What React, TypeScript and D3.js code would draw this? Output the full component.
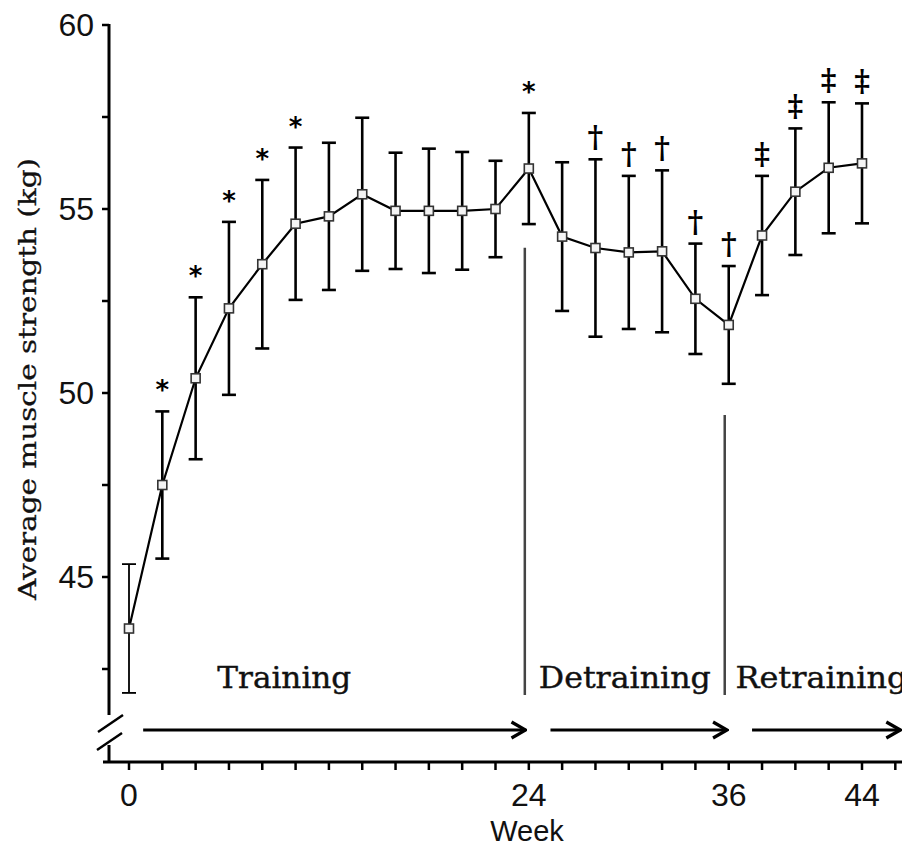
import React from "react";
import * as d3 from "d3";

const weeks = [0, 2, 4, 6, 8, 10, 12, 14, 16, 18, 20, 22, 24, 26, 28, 30, 32, 34, 36, 38, 40, 42, 44];
const means = [43.6, 47.5, 50.4, 52.3, 53.5, 54.6, 54.8, 55.4, 54.95, 54.95, 54.95, 55.0, 56.1, 54.25, 53.94, 53.82, 53.85, 52.56, 51.85, 54.28, 55.47, 56.12, 56.24];
const sds = [1.75, 2.0, 2.2, 2.35, 2.29, 2.07, 2.0, 2.08, 1.58, 1.69, 1.6, 1.31, 1.51, 2.02, 2.41, 2.08, 2.2, 1.5, 1.6, 1.62, 1.72, 1.78, 1.63];
const marks = ["", "*", "*", "*", "*", "*", "", "", "", "", "", "", "*", "", "†", "†", "†", "†", "†", "‡", "‡", "‡", "‡"];

const yTicks = [42.5, 45, 47.5, 50, 52.5, 55, 57.5, 60];
const yTickLabels = [45, 50, 55, 60];
const xTicks = d3.range(0, 47, 2);
const xTickLabels = [0, 24, 36, 44];

const phaseNames = ["Training", "Detraining", "Retraining"];
const phaseLabelStart = [5.3, 24.6, 36.4];
const phaseLabelWidth = [134, 172, 172];
const phaseArrowStart = [0.85, 25.3, 37.4];
const phaseArrowEnd = [23.8, 35.9, 46.3];
const dividerWeeks = [24, 36];
const dividerTops = [53.95, 49.4];

const W = 902;
const H = 850;

export default function App() {
  const x = d3.scaleLinear().domain([0, 44]).range([129, 862]);
  const y = d3.scaleLinear().domain([45, 60]).range([577, 25]);

  const axisX = 109;
  const axisY = 762;
  const yAxisEnd = 715;
  const lowerStart = 745;
  const dividerBottom = 695;
  const arrowY = 730;
  const capHalf = 7;

  const line = d3
    .line<number>()
    .x((_, i) => x(weeks[i]))
    .y((d) => y(d));

  const labelFont = "'DejaVu Serif', serif";
  const tickFont = "'Liberation Sans', sans-serif";

  return (
    <svg width={W} height={H} style={{ position: "absolute", left: 0, top: 0, background: "#fff" }}>
      <defs>
        <marker id="arr" viewBox="0 0 20 20" refX="18" refY="10" markerWidth="20" markerHeight="20" markerUnits="userSpaceOnUse" orient="auto">
          <path d="M4,2 L18,10 L4,18" fill="none" stroke="#000" strokeWidth={3.2} strokeLinejoin="miter" />
        </marker>
      </defs>

      {/* Y axis */}
      <line x1={axisX} x2={axisX} y1={y(60) - 1} y2={yAxisEnd} stroke="#000" strokeWidth={3} />
      <line x1={axisX} x2={axisX} y1={lowerStart} y2={axisY} stroke="#000" strokeWidth={3} />
      <line x1={98} y1={732} x2={123} y2={715} stroke="#000" strokeWidth={2.5} />
      <line x1={97} y1={750} x2={122} y2={733} stroke="#000" strokeWidth={2.5} />
      {yTicks.map((t) => (
        <line key={t} x1={axisX - 7} x2={axisX} y1={y(t)} y2={y(t)} stroke="#000" strokeWidth={2.5} />
      ))}
      {yTickLabels.map((t) => (
        <text key={t} x={94} y={y(t) + 11} textAnchor="end" fontFamily={tickFont} fontSize={32} fill="#111">
          {t}
        </text>
      ))}
      <text
        transform={`translate(36,379) rotate(-90)`}
        textAnchor="middle"
        fontFamily={labelFont}
        fontSize={25}
        textLength={442}
        lengthAdjust="spacingAndGlyphs"
        fill="#111"
        stroke="#111"
        strokeWidth={0.3}
      >
        Average muscle strength (kg)
      </text>

      {/* X axis */}
      <line x1={103} x2={W} y1={axisY} y2={axisY} stroke="#000" strokeWidth={3} />
      {xTicks.map((t) => (
        <line key={t} x1={x(t)} x2={x(t)} y1={axisY} y2={axisY + 8} stroke="#000" strokeWidth={2.5} />
      ))}
      {xTickLabels.map((t) => (
        <text key={t} x={x(t)} y={806} textAnchor="middle" fontFamily={tickFont} fontSize={32} fill="#111">
          {t}
        </text>
      ))}
      <text x={527} y={841} textAnchor="middle" fontFamily={tickFont} fontSize={29} fill="#111">
        Week
      </text>

      {/* phase dividers */}
      {dividerWeeks.map((w, i) => (
        <line key={w} x1={x(w) - 4} x2={x(w) - 4} y1={y(dividerTops[i])} y2={dividerBottom} stroke="#444" strokeWidth={2.5} />
      ))}

      {/* phase labels and arrows */}
      {phaseNames.map((p, i) => (
        <text
          key={p}
          x={x(phaseLabelStart[i])}
          y={688}
          fontFamily={labelFont}
          fontSize={29}
          textLength={phaseLabelWidth[i]}
          lengthAdjust="spacingAndGlyphs"
          fill="#111"
          stroke="#111"
          strokeWidth={0.4}
        >
          {p}
        </text>
      ))}
      {phaseNames.map((p, i) => (
        <line
          key={p + "a"}
          x1={x(phaseArrowStart[i])}
          x2={x(phaseArrowEnd[i])}
          y1={arrowY}
          y2={arrowY}
          stroke="#000"
          strokeWidth={3}
          markerEnd="url(#arr)"
        />
      ))}

      {/* error bars */}
      {means.map((m, i) => {
        const cx = x(weeks[i]);
        const top = y(m + sds[i]);
        const bot = y(m - sds[i]);
        return (
          <g key={i} stroke="#000" strokeWidth={i === 0 ? 1.8 : 2.6}>
            <line x1={cx} x2={cx} y1={top} y2={bot} />
            <line x1={cx - capHalf} x2={cx + capHalf} y1={top} y2={top} />
            <line x1={cx - capHalf} x2={cx + capHalf} y1={bot} y2={bot} />
          </g>
        );
      })}

      {/* mean line */}
      <path d={line(means) || ""} fill="none" stroke="#000" strokeWidth={2.2} />
      {means.map((m, i) => (
        <rect key={i} x={x(weeks[i]) - 4.5} y={y(m) - 4.5} width={9} height={9} fill="#f4f4f4" stroke="#333" strokeWidth={1.6} />
      ))}

      {/* significance marks */}
      {marks.map((s, i) => {
        if (!s) return null;
        const cx = x(weeks[i]);
        const top = y(means[i] + sds[i]);
        const isStar = s === "*";
        return (
          <text
            key={i}
            x={cx}
            y={top - 12}
            textAnchor="middle"
            fontFamily={isStar ? "'DejaVu Sans', sans-serif" : "'DejaVu Serif', serif"}
            fontWeight="bold"
            fontSize={isStar ? 26 : 30}
            fill="#000"
          >
            {s}
          </text>
        );
      })}
    </svg>
  );
}
